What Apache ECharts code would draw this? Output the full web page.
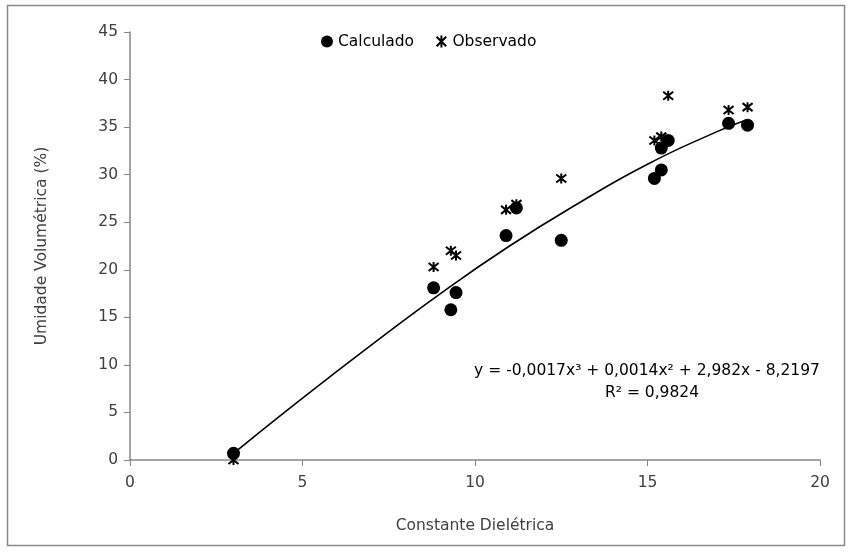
<!DOCTYPE html>
<html>
<head>
<meta charset="utf-8">
<script src="https://cdn.jsdelivr.net/npm/echarts@6/dist/echarts.min.js"></script>
<style>
  html, body { margin: 0; padding: 0; background: #fff; }
  #chart { width: 851px; height: 552px; }
</style>
</head>
<body>
<div id="chart"></div>
<script>
// points: [constante dieletrica, umidade %]
var calculado = [
  [3.0, 0.7], [8.8, 18.1], [9.3, 15.8], [9.45, 17.6], [10.9, 23.6],
  [11.2, 26.5], [12.5, 23.1], [15.2, 29.6], [15.4, 30.5], [15.4, 32.8],
  [15.6, 33.6], [17.35, 35.4], [17.9, 35.2]
]
var observado = [
  [3.0, 0.0], [8.8, 20.3], [9.3, 22.0], [9.45, 21.5], [10.9, 26.3],
  [11.2, 26.9], [12.5, 29.6], [15.2, 33.6], [15.4, 34.0], [15.6, 38.3],
  [17.35, 36.8], [17.9, 37.1]
]
// trend curve, points
var tendencia = [
  [3.0, 0.7], [5, 6.5], [7, 12.1], [9, 17.5], [11, 22.5],
  [13, 27.0], [15, 31.1], [17, 34.5], [17.9, 35.8]
]
var equacao = 'y = -0,0017x³ + 0,0014x² + 2,982x - 8,2197'
var r2 = 'R² = 0,9824'

var chart = echarts.init(document.getElementById('chart'))
var font = 'DejaVu Sans'
var fs = 15.5
var txt = '#404040'
var axisCol = '#868686'
var star = 'path://M1,1L9,9M9,1L1,9M5,0L5,10'

var option = {
  backgroundColor: '#fff',
  animation: false,
  textStyle: { fontFamily: font },
  grid: { left: 130, right: 31, top: 32, bottom: 92 },
  legend: {
    top: 28,
    left: 316,
    itemGap: 20,
    itemWidth: 12,
    itemHeight: 12,
    textStyle: { fontFamily: font, fontSize: fs, color: '#000' },
    data: [
      { name: 'Calculado', icon: 'circle' },
      { name: 'Observado', icon: star, itemStyle: { color: 'none', borderColor: '#000', borderWidth: 2 } }
    ]
  },
  xAxis: {
    type: 'value',
    min: 0, max: 20, interval: 5,
    name: 'Constante Dielétrica',
    nameLocation: 'middle',
    nameGap: 58,
    nameTextStyle: { fontFamily: font, fontSize: fs, color: txt },
    axisLine: { lineStyle: { color: axisCol, width: 1.5 } },
    axisTick: { show: true, length: 6, lineStyle: { color: axisCol } },
    axisLabel: { fontFamily: font, fontSize: fs, color: txt, margin: 15 },
    splitLine: { show: false }
  },
  yAxis: {
    type: 'value',
    min: 0, max: 45, interval: 5,
    name: 'Umidade Volumétrica (%)',
    nameLocation: 'middle',
    nameGap: 80,
    nameTextStyle: { fontFamily: font, fontSize: fs, color: txt },
    axisLine: { show: true, lineStyle: { color: axisCol, width: 1.5 } },
    axisTick: { show: true, length: 6, lineStyle: { color: axisCol } },
    axisLabel: { fontFamily: font, fontSize: fs, color: txt, margin: 12 },
    splitLine: { show: false }
  },
  graphic: [
    {
      type: 'rect', silent: true,
      shape: { x: 7.5, y: 5.5, width: 837, height: 540 },
      style: { fill: 'none', stroke: '#898989', lineWidth: 1.5 }
    },
    {
      type: 'text', x: 647, y: 363,
      style: { text: equacao, fontFamily: font, fontSize: fs, fill: '#000', align: 'center' }
    },
    {
      type: 'text', x: 652, y: 385,
      style: { text: r2, fontFamily: font, fontSize: fs, fill: '#000', align: 'center' }
    }
  ],
  series: [
    {
      name: 'Tendência',
      type: 'line',
      data: tendencia,
      smooth: true,
      showSymbol: false,
      lineStyle: { color: '#000', width: 1.6 },
      z: 1
    },
    {
      name: 'Observado',
      type: 'scatter',
      data: observado,
      symbol: star,
      symbolSize: 10,
      clip: false,
      itemStyle: { color: 'none', borderColor: '#000', borderWidth: 2, opacity: 1 },
      z: 3
    },
    {
      name: 'Calculado',
      type: 'scatter',
      data: calculado,
      symbol: 'circle',
      symbolSize: 13,
      clip: false,
      itemStyle: { color: '#000', opacity: 1 },
      z: 4
    }
  ]
}

chart.setOption(option)
</script>
</body>
</html>
